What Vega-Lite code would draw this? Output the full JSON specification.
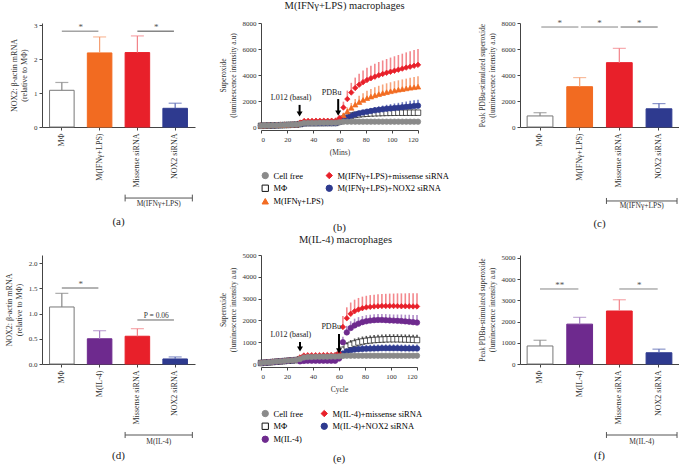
{
"$schema":"https://vega.github.io/schema/vega-lite/v6.json",
"padding":{"left":5,"top":0,"right":0,"bottom":0},
"background":"white",
"config":{"font":"Liberation Serif","view":{"stroke":null},
"axis":{"grid":false,"labelOverlap":false,"labelFontSize":7,"titleFontSize":7.5,"titleFontWeight":"normal","labelColor":"#333","titleColor":"#333","domainColor":"#444","tickColor":"#444","tickSize":3,"labelPadding":2,"titlePadding":5},
"title":{"fontWeight":"normal","color":"#222"}},
"datasets":{
"ba":[{"g":"MΦ","m":1.08,"u":1.31},{"g":"M(IFNγ+LPS)","m":2.18,"u":2.65},{"g":"Missense siRNA","m":2.19,"u":2.68},{"g":"NOX2 siRNA","m":0.55,"u":0.70}],
"bc":[{"g":"MΦ","m":850,"u":1100},{"g":"M(IFNγ+LPS)","m":3100,"u":3800},{"g":"Missense siRNA","m":4950,"u":6050},{"g":"NOX2 siRNA","m":1400,"u":1800}],
"bd":[{"g":"MΦ","m":1.13,"u":1.40},{"g":"M(IL-4)","m":0.50,"u":0.66},{"g":"Missense siRNA","m":0.55,"u":0.70},{"g":"NOX2 siRNA","m":0.10,"u":0.14}],
"bf":[{"g":"MΦ","m":850,"u":1120},{"g":"M(IL-4)","m":1880,"u":2200},{"g":"Missense siRNA","m":2500,"u":3030},{"g":"NOX2 siRNA","m":530,"u":700}],
"tb":[
{"s":"mo","t":0,"m":90,"u":120},{"s":"mo","t":3,"m":100,"u":130},{"s":"mo","t":6,"m":110,"u":140},{"s":"mo","t":9,"m":120,"u":150},{"s":"mo","t":12,"m":130,"u":160},{"s":"mo","t":15,"m":140,"u":170},{"s":"mo","t":18,"m":150,"u":180},{"s":"mo","t":21,"m":160,"u":190},{"s":"mo","t":24,"m":170,"u":200},{"s":"mo","t":27,"m":180,"u":210},{"s":"mo","t":30,"m":230,"u":260},{"s":"mo","t":33,"m":290,"u":320},{"s":"mo","t":36,"m":300,"u":330},{"s":"mo","t":39,"m":300,"u":330},{"s":"mo","t":42,"m":300,"u":330},{"s":"mo","t":45,"m":305,"u":335},{"s":"mo","t":48,"m":305,"u":335},{"s":"mo","t":51,"m":310,"u":340},{"s":"mo","t":54,"m":310,"u":340},{"s":"mo","t":57,"m":315,"u":345},{"s":"mo","t":60,"m":420,"u":470},{"s":"mo","t":63,"m":650,"u":750},{"s":"mo","t":66,"m":800,"u":920},{"s":"mo","t":69,"m":880,"u":1020},{"s":"mo","t":72,"m":930,"u":1080},{"s":"mo","t":75,"m":970,"u":1120},{"s":"mo","t":78,"m":1000,"u":1160},{"s":"mo","t":81,"m":1020,"u":1190},{"s":"mo","t":84,"m":1040,"u":1210},{"s":"mo","t":87,"m":1055,"u":1230},{"s":"mo","t":90,"m":1065,"u":1240},{"s":"mo","t":93,"m":1075,"u":1250},{"s":"mo","t":96,"m":1085,"u":1255},{"s":"mo","t":99,"m":1090,"u":1260},{"s":"mo","t":102,"m":1095,"u":1265},{"s":"mo","t":105,"m":1100,"u":1270},{"s":"mo","t":108,"m":1100,"u":1270},{"s":"mo","t":111,"m":1100,"u":1270},{"s":"mo","t":114,"m":1100,"u":1270},{"s":"mo","t":117,"m":1100,"u":1270},{"s":"mo","t":120,"m":1100,"u":1270},
{"s":"nox","t":0,"m":90,"u":120},{"s":"nox","t":3,"m":100,"u":130},{"s":"nox","t":6,"m":110,"u":140},{"s":"nox","t":9,"m":120,"u":150},{"s":"nox","t":12,"m":130,"u":160},{"s":"nox","t":15,"m":140,"u":170},{"s":"nox","t":18,"m":150,"u":180},{"s":"nox","t":21,"m":160,"u":190},{"s":"nox","t":24,"m":170,"u":200},{"s":"nox","t":27,"m":180,"u":210},{"s":"nox","t":30,"m":220,"u":250},{"s":"nox","t":33,"m":280,"u":310},{"s":"nox","t":36,"m":290,"u":320},{"s":"nox","t":39,"m":290,"u":320},{"s":"nox","t":42,"m":290,"u":320},{"s":"nox","t":45,"m":290,"u":320},{"s":"nox","t":48,"m":290,"u":320},{"s":"nox","t":51,"m":290,"u":320},{"s":"nox","t":54,"m":290,"u":320},{"s":"nox","t":57,"m":290,"u":320},{"s":"nox","t":60,"m":380,"u":420},{"s":"nox","t":63,"m":580,"u":650},{"s":"nox","t":66,"m":740,"u":850},{"s":"nox","t":69,"m":870,"u":1000},{"s":"nox","t":72,"m":970,"u":1120},{"s":"nox","t":75,"m":1050,"u":1220},{"s":"nox","t":78,"m":1120,"u":1310},{"s":"nox","t":81,"m":1180,"u":1390},{"s":"nox","t":84,"m":1230,"u":1460},{"s":"nox","t":87,"m":1280,"u":1530},{"s":"nox","t":90,"m":1320,"u":1590},{"s":"nox","t":93,"m":1360,"u":1650},{"s":"nox","t":96,"m":1400,"u":1710},{"s":"nox","t":99,"m":1430,"u":1760},{"s":"nox","t":102,"m":1460,"u":1810},{"s":"nox","t":105,"m":1490,"u":1860},{"s":"nox","t":108,"m":1520,"u":1910},{"s":"nox","t":111,"m":1550,"u":1960},{"s":"nox","t":114,"m":1580,"u":2010},{"s":"nox","t":117,"m":1610,"u":2060},{"s":"nox","t":120,"m":1640,"u":2100},
{"s":"ifn","t":0,"m":110,"u":140},{"s":"ifn","t":3,"m":120,"u":150},{"s":"ifn","t":6,"m":130,"u":160},{"s":"ifn","t":9,"m":140,"u":170},{"s":"ifn","t":12,"m":150,"u":180},{"s":"ifn","t":15,"m":160,"u":190},{"s":"ifn","t":18,"m":170,"u":200},{"s":"ifn","t":21,"m":180,"u":210},{"s":"ifn","t":24,"m":190,"u":220},{"s":"ifn","t":27,"m":200,"u":230},{"s":"ifn","t":30,"m":330,"u":360},{"s":"ifn","t":33,"m":450,"u":480},{"s":"ifn","t":36,"m":460,"u":490},{"s":"ifn","t":39,"m":460,"u":490},{"s":"ifn","t":42,"m":465,"u":495},{"s":"ifn","t":45,"m":465,"u":495},{"s":"ifn","t":48,"m":470,"u":500},{"s":"ifn","t":51,"m":470,"u":500},{"s":"ifn","t":54,"m":475,"u":505},{"s":"ifn","t":57,"m":480,"u":510},{"s":"ifn","t":60,"m":620,"u":700},{"s":"ifn","t":63,"m":900,"u":1100},{"s":"ifn","t":66,"m":1200,"u":1500},{"s":"ifn","t":69,"m":1480,"u":1850},{"s":"ifn","t":72,"m":1720,"u":2150},{"s":"ifn","t":75,"m":1920,"u":2400},{"s":"ifn","t":78,"m":2080,"u":2600},{"s":"ifn","t":81,"m":2220,"u":2780},{"s":"ifn","t":84,"m":2340,"u":2930},{"s":"ifn","t":87,"m":2440,"u":3060},{"s":"ifn","t":90,"m":2530,"u":3170},{"s":"ifn","t":93,"m":2610,"u":3270},{"s":"ifn","t":96,"m":2680,"u":3360},{"s":"ifn","t":99,"m":2750,"u":3440},{"s":"ifn","t":102,"m":2810,"u":3520},{"s":"ifn","t":105,"m":2870,"u":3590},{"s":"ifn","t":108,"m":2920,"u":3660},{"s":"ifn","t":111,"m":2970,"u":3720},{"s":"ifn","t":114,"m":3020,"u":3780},{"s":"ifn","t":117,"m":3060,"u":3840},{"s":"ifn","t":120,"m":3100,"u":3900},
{"s":"mis","t":0,"m":110,"u":140},{"s":"mis","t":3,"m":120,"u":150},{"s":"mis","t":6,"m":130,"u":160},{"s":"mis","t":9,"m":140,"u":170},{"s":"mis","t":12,"m":150,"u":180},{"s":"mis","t":15,"m":160,"u":190},{"s":"mis","t":18,"m":170,"u":200},{"s":"mis","t":21,"m":180,"u":210},{"s":"mis","t":24,"m":190,"u":220},{"s":"mis","t":27,"m":200,"u":230},{"s":"mis","t":30,"m":340,"u":370},{"s":"mis","t":33,"m":460,"u":490},{"s":"mis","t":36,"m":470,"u":500},{"s":"mis","t":39,"m":470,"u":500},{"s":"mis","t":42,"m":475,"u":505},{"s":"mis","t":45,"m":475,"u":505},{"s":"mis","t":48,"m":480,"u":510},{"s":"mis","t":51,"m":480,"u":510},{"s":"mis","t":54,"m":485,"u":515},{"s":"mis","t":57,"m":490,"u":520},{"s":"mis","t":60,"m":700,"u":800},{"s":"mis","t":63,"m":1500,"u":1950},{"s":"mis","t":66,"m":2150,"u":2800},{"s":"mis","t":69,"m":2650,"u":3400},{"s":"mis","t":72,"m":3000,"u":3800},{"s":"mis","t":75,"m":3250,"u":4100},{"s":"mis","t":78,"m":3450,"u":4350},{"s":"mis","t":81,"m":3610,"u":4550},{"s":"mis","t":84,"m":3750,"u":4720},{"s":"mis","t":87,"m":3870,"u":4870},{"s":"mis","t":90,"m":3980,"u":5000},{"s":"mis","t":93,"m":4080,"u":5120},{"s":"mis","t":96,"m":4170,"u":5230},{"s":"mis","t":99,"m":4250,"u":5340},{"s":"mis","t":102,"m":4330,"u":5440},{"s":"mis","t":105,"m":4410,"u":5540},{"s":"mis","t":108,"m":4490,"u":5640},{"s":"mis","t":111,"m":4570,"u":5740},{"s":"mis","t":114,"m":4640,"u":5830},{"s":"mis","t":117,"m":4710,"u":5920},{"s":"mis","t":120,"m":4780,"u":6000},
{"s":"cf","t":0,"m":100,"u":130},{"s":"cf","t":3,"m":110,"u":140},{"s":"cf","t":6,"m":120,"u":150},{"s":"cf","t":9,"m":130,"u":160},{"s":"cf","t":12,"m":140,"u":170},{"s":"cf","t":15,"m":150,"u":180},{"s":"cf","t":18,"m":160,"u":190},{"s":"cf","t":21,"m":170,"u":200},{"s":"cf","t":24,"m":180,"u":210},{"s":"cf","t":27,"m":190,"u":220},{"s":"cf","t":30,"m":240,"u":270},{"s":"cf","t":33,"m":300,"u":330},{"s":"cf","t":36,"m":310,"u":340},{"s":"cf","t":39,"m":310,"u":340},{"s":"cf","t":42,"m":315,"u":345},{"s":"cf","t":45,"m":320,"u":350},{"s":"cf","t":48,"m":320,"u":350},{"s":"cf","t":51,"m":325,"u":355},{"s":"cf","t":54,"m":325,"u":355},{"s":"cf","t":57,"m":330,"u":360},{"s":"cf","t":60,"m":360,"u":390},{"s":"cf","t":63,"m":400,"u":430},{"s":"cf","t":66,"m":410,"u":440},{"s":"cf","t":69,"m":410,"u":440},{"s":"cf","t":72,"m":410,"u":440},{"s":"cf","t":75,"m":410,"u":440},{"s":"cf","t":78,"m":410,"u":440},{"s":"cf","t":81,"m":410,"u":440},{"s":"cf","t":84,"m":410,"u":440},{"s":"cf","t":87,"m":410,"u":440},{"s":"cf","t":90,"m":410,"u":440},{"s":"cf","t":93,"m":410,"u":440},{"s":"cf","t":96,"m":410,"u":440},{"s":"cf","t":99,"m":410,"u":440},{"s":"cf","t":102,"m":410,"u":440},{"s":"cf","t":105,"m":410,"u":440},{"s":"cf","t":108,"m":410,"u":440},{"s":"cf","t":111,"m":410,"u":440},{"s":"cf","t":114,"m":410,"u":440},{"s":"cf","t":117,"m":410,"u":440},{"s":"cf","t":120,"m":410,"u":440}
],
"te":[
{"s":"mo","t":0,"m":45,"u":75},{"s":"mo","t":3,"m":60,"u":90},{"s":"mo","t":6,"m":75,"u":105},{"s":"mo","t":9,"m":90,"u":120},{"s":"mo","t":12,"m":105,"u":135},{"s":"mo","t":15,"m":120,"u":150},{"s":"mo","t":18,"m":135,"u":165},{"s":"mo","t":21,"m":150,"u":180},{"s":"mo","t":24,"m":165,"u":195},{"s":"mo","t":27,"m":180,"u":210},{"s":"mo","t":30,"m":220,"u":250},{"s":"mo","t":33,"m":280,"u":310},{"s":"mo","t":36,"m":295,"u":325},{"s":"mo","t":39,"m":300,"u":330},{"s":"mo","t":42,"m":300,"u":330},{"s":"mo","t":45,"m":300,"u":330},{"s":"mo","t":48,"m":305,"u":335},{"s":"mo","t":51,"m":305,"u":335},{"s":"mo","t":54,"m":310,"u":340},{"s":"mo","t":57,"m":310,"u":340},{"s":"mo","t":60,"m":420,"u":480},{"s":"mo","t":63,"m":650,"u":800},{"s":"mo","t":66,"m":800,"u":1000},{"s":"mo","t":69,"m":880,"u":1100},{"s":"mo","t":72,"m":940,"u":1170},{"s":"mo","t":75,"m":990,"u":1220},{"s":"mo","t":78,"m":1030,"u":1260},{"s":"mo","t":81,"m":1060,"u":1290},{"s":"mo","t":84,"m":1080,"u":1310},{"s":"mo","t":87,"m":1100,"u":1330},{"s":"mo","t":90,"m":1110,"u":1340},{"s":"mo","t":93,"m":1120,"u":1350},{"s":"mo","t":96,"m":1130,"u":1360},{"s":"mo","t":99,"m":1135,"u":1365},{"s":"mo","t":102,"m":1135,"u":1365},{"s":"mo","t":105,"m":1135,"u":1365},{"s":"mo","t":108,"m":1130,"u":1360},{"s":"mo","t":111,"m":1125,"u":1355},{"s":"mo","t":114,"m":1120,"u":1350},{"s":"mo","t":117,"m":1110,"u":1345},{"s":"mo","t":120,"m":1100,"u":1340},
{"s":"nox","t":0,"m":45,"u":75},{"s":"nox","t":3,"m":60,"u":90},{"s":"nox","t":6,"m":75,"u":105},{"s":"nox","t":9,"m":90,"u":120},{"s":"nox","t":12,"m":105,"u":135},{"s":"nox","t":15,"m":120,"u":150},{"s":"nox","t":18,"m":135,"u":165},{"s":"nox","t":21,"m":150,"u":180},{"s":"nox","t":24,"m":165,"u":195},{"s":"nox","t":27,"m":180,"u":210},{"s":"nox","t":30,"m":200,"u":230},{"s":"nox","t":33,"m":260,"u":290},{"s":"nox","t":36,"m":275,"u":305},{"s":"nox","t":39,"m":280,"u":310},{"s":"nox","t":42,"m":280,"u":310},{"s":"nox","t":45,"m":280,"u":310},{"s":"nox","t":48,"m":280,"u":310},{"s":"nox","t":51,"m":280,"u":310},{"s":"nox","t":54,"m":280,"u":310},{"s":"nox","t":57,"m":280,"u":310},{"s":"nox","t":60,"m":300,"u":360},{"s":"nox","t":63,"m":480,"u":620},{"s":"nox","t":66,"m":580,"u":750},{"s":"nox","t":69,"m":630,"u":810},{"s":"nox","t":72,"m":660,"u":840},{"s":"nox","t":75,"m":680,"u":860},{"s":"nox","t":78,"m":690,"u":870},{"s":"nox","t":81,"m":700,"u":880},{"s":"nox","t":84,"m":705,"u":885},{"s":"nox","t":87,"m":710,"u":890},{"s":"nox","t":90,"m":715,"u":895},{"s":"nox","t":93,"m":720,"u":900},{"s":"nox","t":96,"m":720,"u":900},{"s":"nox","t":99,"m":720,"u":900},{"s":"nox","t":102,"m":720,"u":900},{"s":"nox","t":105,"m":720,"u":900},{"s":"nox","t":108,"m":715,"u":895},{"s":"nox","t":111,"m":715,"u":895},{"s":"nox","t":114,"m":710,"u":890},{"s":"nox","t":117,"m":710,"u":890},{"s":"nox","t":120,"m":710,"u":890},
{"s":"il4","t":0,"m":50,"u":80},{"s":"il4","t":3,"m":65,"u":95},{"s":"il4","t":6,"m":80,"u":110},{"s":"il4","t":9,"m":95,"u":125},{"s":"il4","t":12,"m":110,"u":140},{"s":"il4","t":15,"m":125,"u":155},{"s":"il4","t":18,"m":140,"u":170},{"s":"il4","t":21,"m":155,"u":185},{"s":"il4","t":24,"m":170,"u":200},{"s":"il4","t":27,"m":185,"u":215},{"s":"il4","t":30,"m":120,"u":150},{"s":"il4","t":33,"m":140,"u":170},{"s":"il4","t":36,"m":150,"u":180},{"s":"il4","t":39,"m":150,"u":180},{"s":"il4","t":42,"m":150,"u":180},{"s":"il4","t":45,"m":150,"u":180},{"s":"il4","t":48,"m":150,"u":180},{"s":"il4","t":51,"m":150,"u":180},{"s":"il4","t":54,"m":150,"u":180},{"s":"il4","t":57,"m":150,"u":180},{"s":"il4","t":60,"m":250,"u":300},{"s":"il4","t":63,"m":1000,"u":1250},{"s":"il4","t":66,"m":1450,"u":1750},{"s":"il4","t":69,"m":1650,"u":1960},{"s":"il4","t":72,"m":1770,"u":2080},{"s":"il4","t":75,"m":1850,"u":2150},{"s":"il4","t":78,"m":1920,"u":2200},{"s":"il4","t":81,"m":1960,"u":2240},{"s":"il4","t":84,"m":1990,"u":2260},{"s":"il4","t":87,"m":2010,"u":2280},{"s":"il4","t":90,"m":2020,"u":2290},{"s":"il4","t":93,"m":2020,"u":2290},{"s":"il4","t":96,"m":2010,"u":2290},{"s":"il4","t":99,"m":2000,"u":2280},{"s":"il4","t":102,"m":1990,"u":2270},{"s":"il4","t":105,"m":1980,"u":2270},{"s":"il4","t":108,"m":1970,"u":2270},{"s":"il4","t":111,"m":1955,"u":2260},{"s":"il4","t":114,"m":1940,"u":2260},{"s":"il4","t":117,"m":1920,"u":2250},{"s":"il4","t":120,"m":1900,"u":2250},
{"s":"mis","t":0,"m":55,"u":85},{"s":"mis","t":3,"m":70,"u":100},{"s":"mis","t":6,"m":85,"u":115},{"s":"mis","t":9,"m":100,"u":130},{"s":"mis","t":12,"m":115,"u":145},{"s":"mis","t":15,"m":130,"u":160},{"s":"mis","t":18,"m":145,"u":175},{"s":"mis","t":21,"m":160,"u":190},{"s":"mis","t":24,"m":175,"u":205},{"s":"mis","t":27,"m":190,"u":220},{"s":"mis","t":30,"m":300,"u":330},{"s":"mis","t":33,"m":390,"u":420},{"s":"mis","t":36,"m":400,"u":430},{"s":"mis","t":39,"m":402,"u":432},{"s":"mis","t":42,"m":404,"u":434},{"s":"mis","t":45,"m":406,"u":436},{"s":"mis","t":48,"m":408,"u":438},{"s":"mis","t":51,"m":410,"u":440},{"s":"mis","t":54,"m":412,"u":442},{"s":"mis","t":57,"m":414,"u":444},{"s":"mis","t":60,"m":500,"u":600},{"s":"mis","t":63,"m":1700,"u":2200},{"s":"mis","t":66,"m":2100,"u":2600},{"s":"mis","t":69,"m":2300,"u":2820},{"s":"mis","t":72,"m":2420,"u":2950},{"s":"mis","t":75,"m":2500,"u":3030},{"s":"mis","t":78,"m":2560,"u":3090},{"s":"mis","t":81,"m":2600,"u":3130},{"s":"mis","t":84,"m":2620,"u":3160},{"s":"mis","t":87,"m":2640,"u":3180},{"s":"mis","t":90,"m":2650,"u":3200},{"s":"mis","t":93,"m":2660,"u":3210},{"s":"mis","t":96,"m":2660,"u":3220},{"s":"mis","t":99,"m":2660,"u":3230},{"s":"mis","t":102,"m":2660,"u":3230},{"s":"mis","t":105,"m":2655,"u":3240},{"s":"mis","t":108,"m":2650,"u":3240},{"s":"mis","t":111,"m":2650,"u":3240},{"s":"mis","t":114,"m":2645,"u":3250},{"s":"mis","t":117,"m":2640,"u":3250},{"s":"mis","t":120,"m":2640,"u":3250},
{"s":"cf","t":0,"m":50,"u":80},{"s":"cf","t":3,"m":65,"u":95},{"s":"cf","t":6,"m":80,"u":110},{"s":"cf","t":9,"m":95,"u":125},{"s":"cf","t":12,"m":110,"u":140},{"s":"cf","t":15,"m":125,"u":155},{"s":"cf","t":18,"m":140,"u":170},{"s":"cf","t":21,"m":155,"u":185},{"s":"cf","t":24,"m":170,"u":200},{"s":"cf","t":27,"m":185,"u":215},{"s":"cf","t":30,"m":230,"u":260},{"s":"cf","t":33,"m":300,"u":330},{"s":"cf","t":36,"m":320,"u":350},{"s":"cf","t":39,"m":325,"u":355},{"s":"cf","t":42,"m":330,"u":360},{"s":"cf","t":45,"m":330,"u":360},{"s":"cf","t":48,"m":335,"u":365},{"s":"cf","t":51,"m":335,"u":365},{"s":"cf","t":54,"m":340,"u":370},{"s":"cf","t":57,"m":340,"u":370},{"s":"cf","t":60,"m":350,"u":380},{"s":"cf","t":63,"m":370,"u":400},{"s":"cf","t":66,"m":380,"u":410},{"s":"cf","t":69,"m":380,"u":410},{"s":"cf","t":72,"m":380,"u":410},{"s":"cf","t":75,"m":380,"u":410},{"s":"cf","t":78,"m":380,"u":410},{"s":"cf","t":81,"m":380,"u":410},{"s":"cf","t":84,"m":380,"u":410},{"s":"cf","t":87,"m":380,"u":410},{"s":"cf","t":90,"m":380,"u":410},{"s":"cf","t":93,"m":380,"u":410},{"s":"cf","t":96,"m":380,"u":410},{"s":"cf","t":99,"m":380,"u":410},{"s":"cf","t":102,"m":380,"u":410},{"s":"cf","t":105,"m":380,"u":410},{"s":"cf","t":108,"m":380,"u":410},{"s":"cf","t":111,"m":380,"u":410},{"s":"cf","t":114,"m":380,"u":410},{"s":"cf","t":117,"m":380,"u":410},{"s":"cf","t":120,"m":380,"u":410}
]},
"columns":3,
"spacing":{"row":128,"column":66},
"bounds":"flush",
"resolve":{"scale":{"color":"independent","fill":"independent","stroke":"independent","shape":"independent"}},
"concat":[
{"width":153,"height":104,
"title":{"text":"(a)","orient":"bottom","fontSize":11,"offset":8,"frame":"group"},
"layer":[
{"data":{"name":"ba"},"mark":{"type":"bar","strokeWidth":1},
"encoding":{"x":{"field":"g","type":"nominal","scale":{"domain":["MΦ","M(IFNγ+LPS)","Missense siRNA","NOX2 siRNA"],"paddingInner":0.35,"paddingOuter":0.2},"axis":{"title":null,"labelAngle":-90,"labelFontSize":8,"labelPadding":3}},
"y":{"field":"m","type":"quantitative","scale":{"domain":[0,3.06],"nice":false},"axis":{"values":[0,1,2,3],"tickCount":50,"format":"d","labelOverlap":false,"title":["NOX2: β-actin mRNA","(relative to MΦ)"],"titleFontSize":8}},
"fill":{"field":"g","type":"nominal","scale":{"domain":["MΦ","M(IFNγ+LPS)","Missense siRNA","NOX2 siRNA"],"range":["#ffffff","#f26b21","#e8202a","#2e3a8f"]},"legend":null},
"stroke":{"field":"g","type":"nominal","scale":{"domain":["MΦ","M(IFNγ+LPS)","Missense siRNA","NOX2 siRNA"],"range":["#777777","#f26b21","#e8202a","#2e3a8f"]},"legend":null}}},
{"data":{"name":"ba"},"mark":{"type":"rule","strokeWidth":1.2},
"encoding":{"x":{"field":"g","type":"nominal"},"y":{"field":"m","type":"quantitative"},"y2":{"field":"u"},
"color":{"field":"g","type":"nominal","scale":{"domain":["MΦ","M(IFNγ+LPS)","Missense siRNA","NOX2 siRNA"],"range":["#888888","#f5a073","#f28389","#5a68b3"]},"legend":null}}},
{"data":{"name":"ba"},"mark":{"type":"tick","thickness":1.2,"size":13},
"encoding":{"x":{"field":"g","type":"nominal"},"y":{"field":"u","type":"quantitative"},"color":{"field":"g","type":"nominal","legend":null}}},
{"data":{"values":[{}]},"mark":{"type":"rule","color":"#666","strokeWidth":0.9},"encoding":{"x":{"datum":"MΦ","type":"nominal"},"x2":{"datum":"M(IFNγ+LPS)","bandPosition":0.45},"y":{"datum":2.82,"type":"quantitative"}}},
{"data":{"values":[{}]},"mark":{"type":"text","text":"*","fontSize":9,"color":"#555","baseline":"middle"},"encoding":{"x":{"datum":"MΦ","type":"nominal","bandPosition":1.27},"y":{"datum":2.94,"type":"quantitative"}}},
{"data":{"values":[{}]},"mark":{"type":"rule","color":"#333","strokeWidth":0.9},"encoding":{"x":{"datum":"Missense siRNA","type":"nominal"},"x2":{"datum":"NOX2 siRNA","bandPosition":0.45},"y":{"datum":2.82,"type":"quantitative"}}},
{"data":{"values":[{}]},"mark":{"type":"text","text":"*","fontSize":9,"color":"#555","baseline":"middle"},"encoding":{"x":{"datum":"Missense siRNA","type":"nominal","bandPosition":1.27},"y":{"datum":2.94,"type":"quantitative"}}},
{"data":{"values":[{}]},"mark":{"type":"rule","color":"#555","strokeWidth":1},"encoding":{"x":{"datum":"Missense siRNA","type":"nominal","bandPosition":0},"x2":{"datum":"NOX2 siRNA","bandPosition":1.2},"y":{"datum":-2.09,"type":"quantitative"}}},
{"data":{"values":[{}]},"mark":{"type":"rule","color":"#555","strokeWidth":1},"encoding":{"x":{"datum":"Missense siRNA","type":"nominal","bandPosition":0},"y":{"datum":-1.99,"type":"quantitative"},"y2":{"datum":-2.19}}},
{"data":{"values":[{}]},"mark":{"type":"rule","color":"#555","strokeWidth":1},"encoding":{"x":{"datum":"NOX2 siRNA","type":"nominal","bandPosition":1.2},"y":{"datum":-1.99,"type":"quantitative"},"y2":{"datum":-2.19}}},
{"data":{"values":[{}]},"mark":{"type":"text","text":"M(IFNγ+LPS)","fontSize":7.5,"color":"#333","baseline":"middle"},"encoding":{"x":{"datum":"Missense siRNA","type":"nominal","bandPosition":1.37},"y":{"datum":-2.27,"type":"quantitative"}}}
]},
{"width":193,"height":104,
"title":{"text":"M(IFNγ+LPS) macrophages","fontSize":10.5,"offset":8,"frame":"group","dx":-13},
"layer":[
{"data":{"name":"tb"},"mark":{"type":"rule","strokeWidth":1.6},
"encoding":{"x":{"field":"t","type":"quantitative","scale":{"domain":[0,120],"range":[0,157],"nice":false},"axis":{"values":[0,20,40,60,80,100,120],"tickCount":50,"labelOverlap":false,"title":"(Mins)","offset":3,"titlePadding":6}},
"y":{"field":"m","type":"quantitative","scale":{"domain":[0,8000],"nice":false},"axis":{"values":[0,2000,4000,6000,8000],"tickCount":50,"labelOverlap":false,"format":"d","title":["Superoxide","(luminescence intensity a.u)"]}},
"y2":{"field":"u"},
"color":{"field":"s","type":"nominal","scale":{"domain":["mo","nox","ifn","mis","cf"],"range":["#555555","#6f7bc0","#f7a47c","#f3888d","#b5b5b5"]},"legend":null}}},
{"data":{"name":"tb"},"mark":{"type":"point","filled":true,"size":30,"strokeWidth":0.7,"opacity":1},
"encoding":{"x":{"field":"t","type":"quantitative"},"y":{"field":"m","type":"quantitative"},
"fill":{"field":"s","type":"nominal","scale":{"domain":["cf","mis","mo","nox","ifn"],"range":["#8a8a8a","#e8202a","#ffffff","#2e3a8f","#f26b21"]},"legend":{"title":null,"orient":"bottom","columns":2,"labelFontSize":8.5,"symbolSize":40,"symbolStrokeWidth":1,"rowPadding":2,"columnPadding":0,"offset":15,"labelExpr":"datum.label == 'cf' ? 'Cell free' : datum.label == 'mo' ? 'MΦ' : datum.label == 'ifn' ? 'M(IFNγ+LPS)' : datum.label == 'mis' ? 'M(IFNγ+LPS)+missense siRNA' : 'M(IFNγ+LPS)+NOX2 siRNA'"}},
"stroke":{"field":"s","type":"nominal","scale":{"domain":["cf","mis","mo","nox","ifn"],"range":["#8a8a8a","#e8202a","#111111","#2e3a8f","#f26b21"]},"legend":{"title":null,"orient":"bottom","columns":2,"labelFontSize":8.5,"symbolSize":40,"symbolStrokeWidth":1,"rowPadding":2,"columnPadding":0,"offset":15,"labelExpr":"datum.label == 'cf' ? 'Cell free' : datum.label == 'mo' ? 'MΦ' : datum.label == 'ifn' ? 'M(IFNγ+LPS)' : datum.label == 'mis' ? 'M(IFNγ+LPS)+missense siRNA' : 'M(IFNγ+LPS)+NOX2 siRNA'"}},
"shape":{"field":"s","type":"nominal","scale":{"domain":["cf","mis","mo","nox","ifn"],"range":["circle","diamond","square","circle","triangle-up"]},"legend":{"title":null,"orient":"bottom","columns":2,"labelFontSize":8.5,"symbolSize":40,"symbolStrokeWidth":1,"rowPadding":2,"columnPadding":0,"offset":15,"labelExpr":"datum.label == 'cf' ? 'Cell free' : datum.label == 'mo' ? 'MΦ' : datum.label == 'ifn' ? 'M(IFNγ+LPS)' : datum.label == 'mis' ? 'M(IFNγ+LPS)+missense siRNA' : 'M(IFNγ+LPS)+NOX2 siRNA'"}}}},
{"data":{"values":[{}]},"mark":{"type":"text","text":"L012 (basal)","fontSize":8,"color":"#222","baseline":"middle"},"encoding":{"x":{"datum":23,"type":"quantitative"},"y":{"datum":2230,"type":"quantitative"}}},
{"data":{"values":[{}]},"mark":{"type":"rule","color":"#000","strokeWidth":2},"encoding":{"x":{"datum":29.5,"type":"quantitative"},"y":{"datum":1700,"type":"quantitative"},"y2":{"datum":1050}}},
{"data":{"values":[{}]},"mark":{"type":"point","shape":"triangle-down","filled":true,"color":"#000","size":35,"opacity":1},"encoding":{"x":{"datum":29.5,"type":"quantitative"},"y":{"datum":1000,"type":"quantitative"}}},
{"data":{"values":[{}]},"mark":{"type":"text","text":"PDBu","fontSize":8,"color":"#222","baseline":"middle"},"encoding":{"x":{"datum":54,"type":"quantitative"},"y":{"datum":2650,"type":"quantitative"}}},
{"data":{"values":[{}]},"mark":{"type":"rule","color":"#000","strokeWidth":2},"encoding":{"x":{"datum":59,"type":"quantitative"},"y":{"datum":2150,"type":"quantitative"},"y2":{"datum":1120}}},
{"data":{"values":[{}]},"mark":{"type":"point","shape":"triangle-down","filled":true,"color":"#000","size":35,"opacity":1},"encoding":{"x":{"datum":59,"type":"quantitative"},"y":{"datum":1070,"type":"quantitative"}}},
{"data":{"values":[{}]},"mark":{"type":"text","text":"(b)","fontSize":11,"color":"#222","baseline":"middle"},"encoding":{"x":{"datum":60,"type":"quantitative"},"y":{"datum":-7770,"type":"quantitative"}}}
]},
{"width":159,"height":104,
"title":{"text":"(c)","orient":"bottom","fontSize":11,"offset":8,"frame":"group"},
"layer":[
{"data":{"name":"bc"},"mark":{"type":"bar","strokeWidth":1},
"encoding":{"x":{"field":"g","type":"nominal","scale":{"domain":["MΦ","M(IFNγ+LPS)","Missense siRNA","NOX2 siRNA"],"paddingInner":0.35,"paddingOuter":0.18},"axis":{"title":null,"labelAngle":-90,"labelFontSize":8,"labelPadding":3}},
"y":{"field":"m","type":"quantitative","scale":{"domain":[0,8000],"nice":false},"axis":{"values":[0,2000,4000,6000,8000],"tickCount":50,"labelOverlap":false,"format":"d","title":["Peak PDBu-stimulated superoxide","(luminescence intensity a.u)"]}},
"fill":{"field":"g","type":"nominal","scale":{"domain":["MΦ","M(IFNγ+LPS)","Missense siRNA","NOX2 siRNA"],"range":["#ffffff","#f26b21","#e8202a","#2e3a8f"]},"legend":null},
"stroke":{"field":"g","type":"nominal","scale":{"domain":["MΦ","M(IFNγ+LPS)","Missense siRNA","NOX2 siRNA"],"range":["#777777","#f26b21","#e8202a","#2e3a8f"]},"legend":null}}},
{"data":{"name":"bc"},"mark":{"type":"rule","strokeWidth":1.2},
"encoding":{"x":{"field":"g","type":"nominal"},"y":{"field":"m","type":"quantitative"},"y2":{"field":"u"},
"color":{"field":"g","type":"nominal","scale":{"domain":["MΦ","M(IFNγ+LPS)","Missense siRNA","NOX2 siRNA"],"range":["#888888","#f5a073","#f28389","#5a68b3"]},"legend":null}}},
{"data":{"name":"bc"},"mark":{"type":"tick","thickness":1.2,"size":13},
"encoding":{"x":{"field":"g","type":"nominal"},"y":{"field":"u","type":"quantitative"},"color":{"field":"g","type":"nominal","legend":null}}},
{"data":{"values":[{}]},"mark":{"type":"rule","color":"#777","strokeWidth":0.9},"encoding":{"x":{"datum":"MΦ","type":"nominal","bandPosition":0.55},"x2":{"datum":"M(IFNγ+LPS)","bandPosition":0.45},"y":{"datum":7690,"type":"quantitative"}}},
{"data":{"values":[{}]},"mark":{"type":"rule","color":"#777","strokeWidth":0.9},"encoding":{"x":{"datum":"M(IFNγ+LPS)","type":"nominal","bandPosition":0.55},"x2":{"datum":"Missense siRNA","bandPosition":0.45},"y":{"datum":7690,"type":"quantitative"}}},
{"data":{"values":[{}]},"mark":{"type":"rule","color":"#555","strokeWidth":0.9},"encoding":{"x":{"datum":"Missense siRNA","type":"nominal","bandPosition":0.55},"x2":{"datum":"NOX2 siRNA","bandPosition":0.45},"y":{"datum":7690,"type":"quantitative"}}},
{"data":{"values":[{}]},"mark":{"type":"text","text":"*","fontSize":9,"color":"#555","baseline":"middle"},"encoding":{"x":{"datum":"MΦ","type":"nominal","bandPosition":1.27},"y":{"datum":7990,"type":"quantitative"}}},
{"data":{"values":[{}]},"mark":{"type":"text","text":"*","fontSize":9,"color":"#555","baseline":"middle"},"encoding":{"x":{"datum":"M(IFNγ+LPS)","type":"nominal","bandPosition":1.27},"y":{"datum":7990,"type":"quantitative"}}},
{"data":{"values":[{}]},"mark":{"type":"text","text":"*","fontSize":9,"color":"#555","baseline":"middle"},"encoding":{"x":{"datum":"Missense siRNA","type":"nominal","bandPosition":1.27},"y":{"datum":7990,"type":"quantitative"}}},
{"data":{"values":[{}]},"mark":{"type":"rule","color":"#555","strokeWidth":1},"encoding":{"x":{"datum":"Missense siRNA","type":"nominal","bandPosition":0},"x2":{"datum":"NOX2 siRNA","bandPosition":1.2},"y":{"datum":-5690,"type":"quantitative"}}},
{"data":{"values":[{}]},"mark":{"type":"rule","color":"#555","strokeWidth":1},"encoding":{"x":{"datum":"Missense siRNA","type":"nominal","bandPosition":0},"y":{"datum":-5460,"type":"quantitative"},"y2":{"datum":-5920}}},
{"data":{"values":[{}]},"mark":{"type":"rule","color":"#555","strokeWidth":1},"encoding":{"x":{"datum":"NOX2 siRNA","type":"nominal","bandPosition":1.2},"y":{"datum":-5460,"type":"quantitative"},"y2":{"datum":-5920}}},
{"data":{"values":[{}]},"mark":{"type":"text","text":"M(IFNγ+LPS)","fontSize":7.5,"color":"#333","baseline":"middle"},"encoding":{"x":{"datum":"Missense siRNA","type":"nominal","bandPosition":1.37},"y":{"datum":-6100,"type":"quantitative"}}}
]},
{"width":153,"height":109,
"title":{"text":"(d)","orient":"bottom","fontSize":11,"offset":4,"frame":"group"},
"layer":[
{"data":{"name":"bd"},"mark":{"type":"bar","strokeWidth":1},
"encoding":{"x":{"field":"g","type":"nominal","scale":{"domain":["MΦ","M(IL-4)","Missense siRNA","NOX2 siRNA"],"paddingInner":0.35,"paddingOuter":0.2},"axis":{"title":null,"labelAngle":-90,"labelFontSize":8,"labelPadding":3}},
"y":{"field":"m","type":"quantitative","scale":{"domain":[0,2.16],"nice":false},"axis":{"values":[0,0.5,1,1.5,2],"tickCount":50,"labelOverlap":false,"format":".1f","title":["NOX2: β-actin mRNA","(relative to MΦ)"],"titleFontSize":8}},
"fill":{"field":"g","type":"nominal","scale":{"domain":["MΦ","M(IL-4)","Missense siRNA","NOX2 siRNA"],"range":["#ffffff","#6e2a8e","#e8202a","#2e3a8f"]},"legend":null},
"stroke":{"field":"g","type":"nominal","scale":{"domain":["MΦ","M(IL-4)","Missense siRNA","NOX2 siRNA"],"range":["#777777","#6e2a8e","#e8202a","#2e3a8f"]},"legend":null}}},
{"data":{"name":"bd"},"mark":{"type":"rule","strokeWidth":1.2},
"encoding":{"x":{"field":"g","type":"nominal"},"y":{"field":"m","type":"quantitative"},"y2":{"field":"u"},
"color":{"field":"g","type":"nominal","scale":{"domain":["MΦ","M(IL-4)","Missense siRNA","NOX2 siRNA"],"range":["#888888","#a884c4","#f28389","#5a68b3"]},"legend":null}}},
{"data":{"name":"bd"},"mark":{"type":"tick","thickness":1.2,"size":13},
"encoding":{"x":{"field":"g","type":"nominal"},"y":{"field":"u","type":"quantitative"},"color":{"field":"g","type":"nominal","legend":null}}},
{"data":{"values":[{}]},"mark":{"type":"rule","color":"#555","strokeWidth":0.9},"encoding":{"x":{"datum":"MΦ","type":"nominal"},"x2":{"datum":"M(IL-4)","bandPosition":0.45},"y":{"datum":1.506,"type":"quantitative"}}},
{"data":{"values":[{}]},"mark":{"type":"text","text":"*","fontSize":9,"color":"#555","baseline":"middle"},"encoding":{"x":{"datum":"MΦ","type":"nominal","bandPosition":1.27},"y":{"datum":1.585,"type":"quantitative"}}},
{"data":{"values":[{}]},"mark":{"type":"rule","color":"#555","strokeWidth":0.9},"encoding":{"x":{"datum":"Missense siRNA","type":"nominal"},"x2":{"datum":"NOX2 siRNA","bandPosition":0.45},"y":{"datum":0.872,"type":"quantitative"}}},
{"data":{"values":[{}]},"mark":{"type":"text","text":"P = 0.06","fontSize":7.5,"color":"#333","baseline":"middle"},"encoding":{"x":{"datum":"Missense siRNA","type":"nominal","bandPosition":1.27},"y":{"datum":0.95,"type":"quantitative"}}},
{"data":{"values":[{}]},"mark":{"type":"rule","color":"#555","strokeWidth":1},"encoding":{"x":{"datum":"Missense siRNA","type":"nominal","bandPosition":0},"x2":{"datum":"NOX2 siRNA","bandPosition":1.2},"y":{"datum":-1.407,"type":"quantitative"}}},
{"data":{"values":[{}]},"mark":{"type":"rule","color":"#555","strokeWidth":1},"encoding":{"x":{"datum":"Missense siRNA","type":"nominal","bandPosition":0},"y":{"datum":-1.347,"type":"quantitative"},"y2":{"datum":-1.467}}},
{"data":{"values":[{}]},"mark":{"type":"rule","color":"#555","strokeWidth":1},"encoding":{"x":{"datum":"NOX2 siRNA","type":"nominal","bandPosition":1.2},"y":{"datum":-1.347,"type":"quantitative"},"y2":{"datum":-1.467}}},
{"data":{"values":[{}]},"mark":{"type":"text","text":"M(IL-4)","fontSize":7.5,"color":"#333","baseline":"middle"},"encoding":{"x":{"datum":"Missense siRNA","type":"nominal","bandPosition":1.37},"y":{"datum":-1.546,"type":"quantitative"}}}
]},
{"width":193,"height":109,
"title":{"text":"M(IL-4) macrophages","fontSize":10.5,"offset":6,"frame":"group","dx":-12},
"layer":[
{"data":{"name":"te"},"mark":{"type":"rule","strokeWidth":1.6},
"encoding":{"x":{"field":"t","type":"quantitative","scale":{"domain":[0,120],"range":[0,156],"nice":false},"axis":{"values":[0,20,40,60,80,100,120],"tickCount":50,"labelOverlap":false,"title":"Cycle","offset":3,"titlePadding":6}},
"y":{"field":"m","type":"quantitative","scale":{"domain":[0,5000],"nice":false},"axis":{"values":[0,1000,2000,3000,4000,5000],"tickCount":50,"labelOverlap":false,"format":"d","title":["Superoxide","(luminescence intensity a.u)"]}},
"y2":{"field":"u"},
"color":{"field":"s","type":"nominal","scale":{"domain":["mo","nox","il4","mis","cf"],"range":["#555555","#6f7bc0","#b08cc8","#f3888d","#b5b5b5"]},"legend":null}}},
{"data":{"name":"te"},"mark":{"type":"point","filled":true,"size":30,"strokeWidth":0.7,"opacity":1},
"encoding":{"x":{"field":"t","type":"quantitative"},"y":{"field":"m","type":"quantitative"},
"fill":{"field":"s","type":"nominal","scale":{"domain":["cf","mis","mo","nox","il4"],"range":["#8a8a8a","#e8202a","#ffffff","#2e3a8f","#6e2a8e"]},"legend":{"title":null,"orient":"bottom","columns":2,"labelFontSize":8.5,"symbolSize":40,"symbolStrokeWidth":1,"rowPadding":2,"columnPadding":16,"offset":16,"labelExpr":"datum.label == 'cf' ? 'Cell free' : datum.label == 'mo' ? 'MΦ' : datum.label == 'il4' ? 'M(IL-4)' : datum.label == 'mis' ? 'M(IL-4)+missense siRNA' : 'M(IL-4)+NOX2 siRNA'"}},
"stroke":{"field":"s","type":"nominal","scale":{"domain":["cf","mis","mo","nox","il4"],"range":["#8a8a8a","#e8202a","#111111","#2e3a8f","#6e2a8e"]},"legend":{"title":null,"orient":"bottom","columns":2,"labelFontSize":8.5,"symbolSize":40,"symbolStrokeWidth":1,"rowPadding":2,"columnPadding":16,"offset":16,"labelExpr":"datum.label == 'cf' ? 'Cell free' : datum.label == 'mo' ? 'MΦ' : datum.label == 'il4' ? 'M(IL-4)' : datum.label == 'mis' ? 'M(IL-4)+missense siRNA' : 'M(IL-4)+NOX2 siRNA'"}},
"shape":{"field":"s","type":"nominal","scale":{"domain":["cf","mis","mo","nox","il4"],"range":["circle","diamond","square","circle","circle"]},"legend":{"title":null,"orient":"bottom","columns":2,"labelFontSize":8.5,"symbolSize":40,"symbolStrokeWidth":1,"rowPadding":2,"columnPadding":16,"offset":16,"labelExpr":"datum.label == 'cf' ? 'Cell free' : datum.label == 'mo' ? 'MΦ' : datum.label == 'il4' ? 'M(IL-4)' : datum.label == 'mis' ? 'M(IL-4)+missense siRNA' : 'M(IL-4)+NOX2 siRNA'"}}}},
{"data":{"values":[{}]},"mark":{"type":"text","text":"L012 (basal)","fontSize":8,"color":"#222","baseline":"middle"},"encoding":{"x":{"datum":23,"type":"quantitative"},"y":{"datum":1330,"type":"quantitative"}}},
{"data":{"values":[{}]},"mark":{"type":"rule","color":"#000","strokeWidth":2},"encoding":{"x":{"datum":30,"type":"quantitative"},"y":{"datum":1010,"type":"quantitative"},"y2":{"datum":720}}},
{"data":{"values":[{}]},"mark":{"type":"point","shape":"triangle-down","filled":true,"color":"#000","size":35,"opacity":1},"encoding":{"x":{"datum":30,"type":"quantitative"},"y":{"datum":690,"type":"quantitative"}}},
{"data":{"values":[{}]},"mark":{"type":"text","text":"PDBu","fontSize":8,"color":"#222","baseline":"middle"},"encoding":{"x":{"datum":54,"type":"quantitative"},"y":{"datum":1680,"type":"quantitative"}}},
{"data":{"values":[{}]},"mark":{"type":"rule","color":"#000","strokeWidth":2},"encoding":{"x":{"datum":60,"type":"quantitative"},"y":{"datum":1380,"type":"quantitative"},"y2":{"datum":620}}},
{"data":{"values":[{}]},"mark":{"type":"point","shape":"triangle-down","filled":true,"color":"#000","size":35,"opacity":1},"encoding":{"x":{"datum":60,"type":"quantitative"},"y":{"datum":600,"type":"quantitative"}}},
{"data":{"values":[{}]},"mark":{"type":"text","text":"(e)","fontSize":11,"color":"#222","baseline":"middle"},"encoding":{"x":{"datum":60,"type":"quantitative"},"y":{"datum":-4360,"type":"quantitative"}}}
]},
{"width":159,"height":109,
"title":{"text":"(f)","orient":"bottom","fontSize":11,"offset":4,"frame":"group"},
"layer":[
{"data":{"name":"bf"},"mark":{"type":"bar","strokeWidth":1},
"encoding":{"x":{"field":"g","type":"nominal","scale":{"domain":["MΦ","M(IL-4)","Missense siRNA","NOX2 siRNA"],"paddingInner":0.35,"paddingOuter":0.18},"axis":{"title":null,"labelAngle":-90,"labelFontSize":8,"labelPadding":3}},
"y":{"field":"m","type":"quantitative","scale":{"domain":[0,5141],"nice":false},"axis":{"values":[0,1000,2000,3000,4000,5000],"tickCount":50,"labelOverlap":false,"format":"d","title":["Peak PDBu-stimulated superoxide","(luminescence intensity a.u)"]}},
"fill":{"field":"g","type":"nominal","scale":{"domain":["MΦ","M(IL-4)","Missense siRNA","NOX2 siRNA"],"range":["#ffffff","#6e2a8e","#e8202a","#2e3a8f"]},"legend":null},
"stroke":{"field":"g","type":"nominal","scale":{"domain":["MΦ","M(IL-4)","Missense siRNA","NOX2 siRNA"],"range":["#777777","#6e2a8e","#e8202a","#2e3a8f"]},"legend":null}}},
{"data":{"name":"bf"},"mark":{"type":"rule","strokeWidth":1.2},
"encoding":{"x":{"field":"g","type":"nominal"},"y":{"field":"m","type":"quantitative"},"y2":{"field":"u"},
"color":{"field":"g","type":"nominal","scale":{"domain":["MΦ","M(IL-4)","Missense siRNA","NOX2 siRNA"],"range":["#888888","#a884c4","#f28389","#5a68b3"]},"legend":null}}},
{"data":{"name":"bf"},"mark":{"type":"tick","thickness":1.2,"size":13},
"encoding":{"x":{"field":"g","type":"nominal"},"y":{"field":"u","type":"quantitative"},"color":{"field":"g","type":"nominal","legend":null}}},
{"data":{"values":[{}]},"mark":{"type":"rule","color":"#777","strokeWidth":0.9},"encoding":{"x":{"datum":"MΦ","type":"nominal"},"x2":{"datum":"M(IL-4)","bandPosition":0.45},"y":{"datum":3538,"type":"quantitative"}}},
{"data":{"values":[{}]},"mark":{"type":"text","text":"**","fontSize":9,"color":"#555","baseline":"middle"},"encoding":{"x":{"datum":"MΦ","type":"nominal","bandPosition":1.27},"y":{"datum":3720,"type":"quantitative"}}},
{"data":{"values":[{}]},"mark":{"type":"rule","color":"#777","strokeWidth":0.9},"encoding":{"x":{"datum":"Missense siRNA","type":"nominal"},"x2":{"datum":"NOX2 siRNA","bandPosition":0.45},"y":{"datum":3538,"type":"quantitative"}}},
{"data":{"values":[{}]},"mark":{"type":"text","text":"*","fontSize":9,"color":"#555","baseline":"middle"},"encoding":{"x":{"datum":"Missense siRNA","type":"nominal","bandPosition":1.27},"y":{"datum":3720,"type":"quantitative"}}},
{"data":{"values":[{}]},"mark":{"type":"rule","color":"#555","strokeWidth":1},"encoding":{"x":{"datum":"Missense siRNA","type":"nominal","bandPosition":0},"x2":{"datum":"NOX2 siRNA","bandPosition":1.2},"y":{"datum":-3349,"type":"quantitative"}}},
{"data":{"values":[{}]},"mark":{"type":"rule","color":"#555","strokeWidth":1},"encoding":{"x":{"datum":"Missense siRNA","type":"nominal","bandPosition":0},"y":{"datum":-3209,"type":"quantitative"},"y2":{"datum":-3489}}},
{"data":{"values":[{}]},"mark":{"type":"rule","color":"#555","strokeWidth":1},"encoding":{"x":{"datum":"NOX2 siRNA","type":"nominal","bandPosition":1.2},"y":{"datum":-3209,"type":"quantitative"},"y2":{"datum":-3489}}},
{"data":{"values":[{}]},"mark":{"type":"text","text":"M(IL-4)","fontSize":7.5,"color":"#333","baseline":"middle"},"encoding":{"x":{"datum":"Missense siRNA","type":"nominal","bandPosition":1.37},"y":{"datum":-3679,"type":"quantitative"}}}
]}
]}
